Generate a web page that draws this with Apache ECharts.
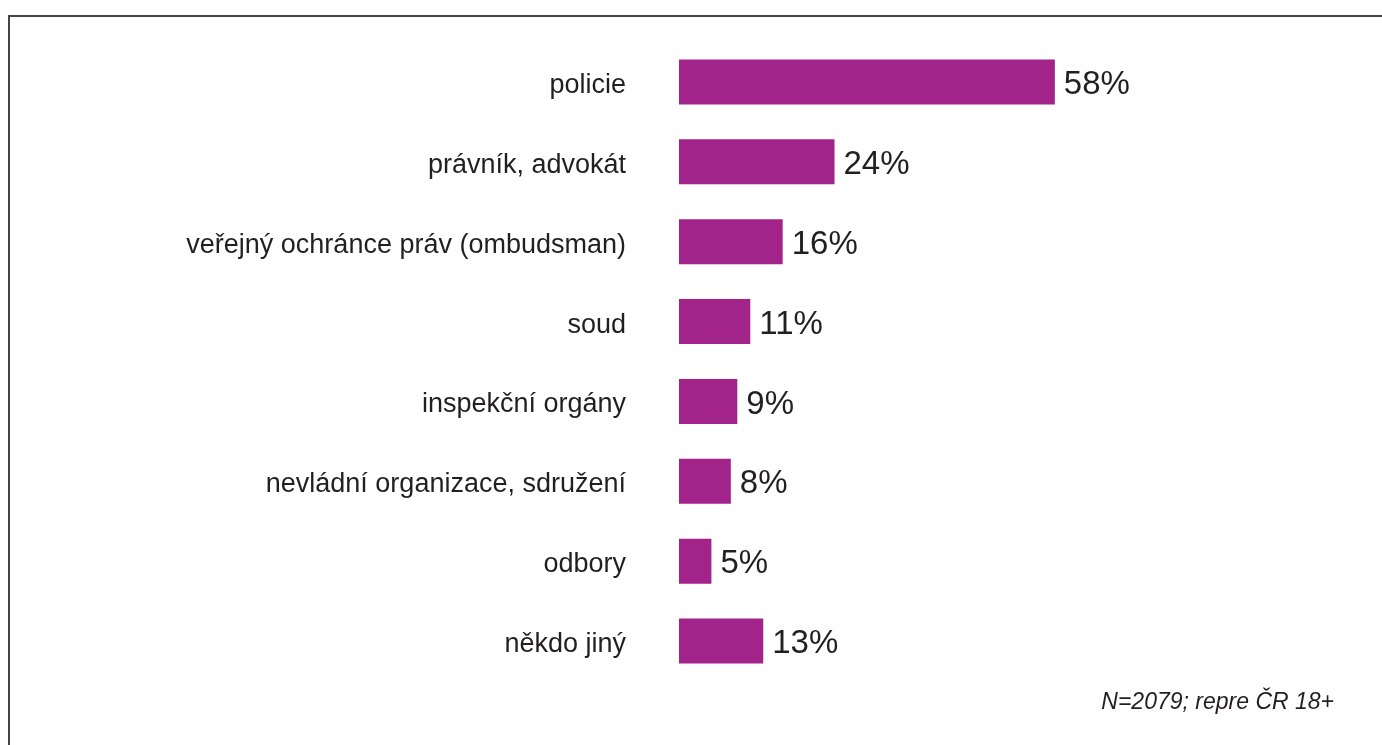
<!DOCTYPE html>
<html>
<head>
<meta charset="utf-8">
<script src="https://cdn.jsdelivr.net/npm/echarts@6/dist/echarts.min.js"></script>
<style>
html,body{margin:0;padding:0;background:#fff;}
#chart{width:1382px;height:745px;}
</style>
</head>
<body>
<div id="chart"></div>
<script>
const categories = ["policie","právník, advokát","veřejný ochránce práv (ombudsman)","soud","inspekční orgány","nevládní organizace, sdružení","odbory","někdo jiný"];
const values = [58,24,16,11,9,8,5,13];
const footnote = "N=2079; repre ČR 18+";
const FONT = "'Liberation Sans', Arial, sans-serif";

const chart = echarts.init(document.getElementById('chart'), null, {renderer:'canvas'});
chart.setOption({
  animation:false,
  backgroundColor:'#fff',
  grid:{left:679, right:55, top:42, bottom:64, containLabel:false},
  xAxis:{type:'value', min:0, max:100, show:false},
  yAxis:{
    type:'category', inverse:true, data:categories,
    axisLine:{show:false}, axisTick:{show:false}, splitLine:{show:false},
    axisLabel:{
      margin:53,
      formatter: v => '{c|' + v + '}',
      rich:{c:{fontFamily:FONT, fontSize:27, color:'#231f20', padding:[7,0,0,0]}}
    }
  },
  series:[{
    type:'bar', data:values, barWidth:45,
    itemStyle:{color:'#a2238a'},
    label:{show:true, position:'right', distance:9,
      formatter: p => '{v|' + p.value + '%}',
      rich:{v:{fontFamily:FONT, fontSize:33, color:'#231f20', padding:[6,0,0,0]}}}
  }],
  graphic:[
    {type:'rect', shape:{x:9, y:16, width:1600, height:1000}, style:{fill:'none', stroke:'#444', lineWidth:2}, silent:true},
    {type:'text', right:48, top:691, style:{text:footnote, fontFamily:FONT, fontStyle:'italic', fontSize:23, fill:'#231f20'}}
  ]
});
</script>
</body>
</html>
